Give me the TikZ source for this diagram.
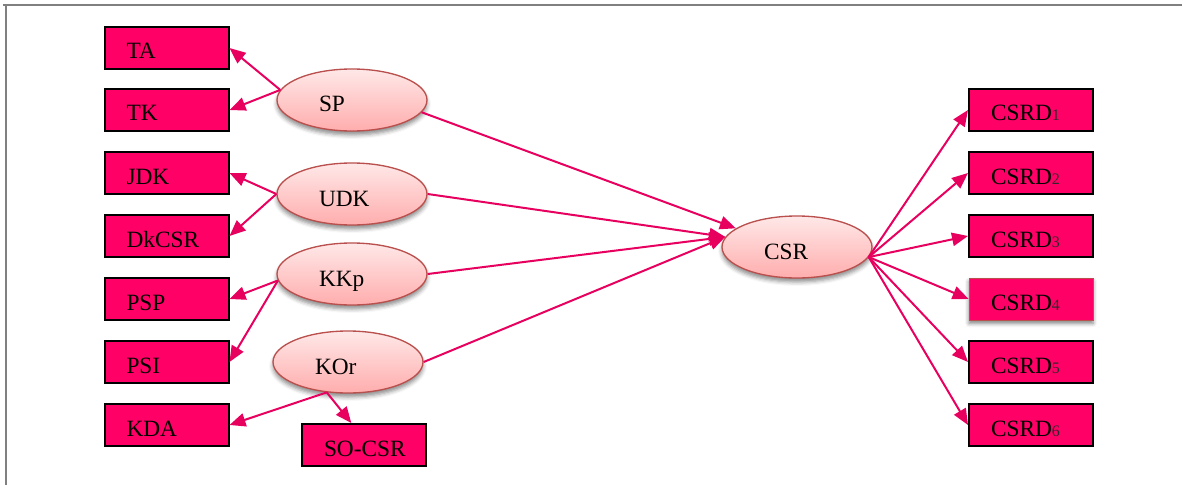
\documentclass[tikz,border=0pt]{standalone}
\usepackage{fontspec}
\setmainfont{Liberation Serif}
\usepackage{tikz}
\usetikzlibrary{arrows.meta,shapes.geometric,shadows,shadows.blur,calc}
\definecolor{boxpink}{HTML}{FF0066}
\definecolor{linepink}{HTML}{E8005F}
\definecolor{ovaltop}{HTML}{FFE8E8}
\definecolor{ovalbot}{HTML}{FFADAD}
\definecolor{ovalrim}{HTML}{B9504D}
\definecolor{subgray}{HTML}{2A2A2A}
\newcommand{\sub}[1]{{\fontsize{12}{12}\selectfont\textcolor{subgray}{#1}}}

\begin{document}
\begin{tikzpicture}[x=0.75pt,y=-0.75pt,
		box/.style={rectangle, draw=black, line width=1.5pt, fill=boxpink,
			minimum width=93pt, minimum height=31.5pt, text width=60pt,
			inner xsep=16.5pt, inner ysep=0pt, align=left,
			text height=16.5pt, text depth=0pt, font=\fontsize{17.5}{20}\selectfont},
		latent/.style={ellipse, draw=ovalrim, line width=1pt,
			top color=ovaltop, bottom color=ovalbot,
			minimum width=112.5pt, minimum height=46.5pt, inner sep=0pt,
			text width=49.5pt, align=left,
			text height=18pt, text depth=0pt, font=\fontsize{17.5}{20}\selectfont,
			blur shadow={shadow xshift=0pt, shadow yshift=-3pt,
				shadow blur radius=3pt, shadow opacity=45}},
		link/.style={-{Triangle[length=12pt,width=10pt]}, color=linepink, line width=1.5pt}]
	\useasboundingbox (0,0) rectangle (1182,485);
	\draw[gray, line width=1.5pt] (3,5) -- (1182,5);
	\draw[gray, line width=1.5pt] (5.5,5) -- (5.5,485);

	\node[box] (TA) at (166.5,48) {TA};
	\node[box] (TK) at (166.5,110) {TK};
	\node[box] (JDK) at (166.5,173) {JDK};
	\node[box] (DkCSR) at (166.5,236) {DkCSR};
	\node[box] (PSP) at (166.5,299) {PSP};
	\node[box] (PSI) at (166.5,362) {PSI};
	\node[box] (KDA) at (166.5,425) {KDA};
	\node[box] (SOCSR) at (364,445) {\mbox{SO-CSR}};

	\node[latent] (SP) at (352,100) {SP};
	\node[latent] (UDK) at (352,194) {UDK};
	\node[latent] (KKp) at (352,274) {KKp};
	\node[latent] (KOr) at (348,362) {KOr};
	\node[latent] (CSR) at (797,247) {CSR};

	\node[box] (D1) at (1031,110) {CSRD\sub{1}};
	\node[box] (D2) at (1031,173) {CSRD\sub{2}};
	\node[box] (D3) at (1031,236) {CSRD\sub{3}};
	\node[box, draw=ovalrim, line width=0.6pt,
		blur shadow={shadow xshift=0pt, shadow yshift=-2.5pt,
			shadow blur radius=3pt, shadow opacity=50}] (D4) at (1031,299) {CSRD\sub{4}};
	\node[box] (D5) at (1031,362) {CSRD\sub{5}};
	\node[box] (D6) at (1031,425) {CSRD\sub{6}};

	\path (SP.172) edge[link] (TA.east);
	\path (SP.172) edge[link] (TK.east);
	\path (UDK.west) edge[link] (JDK.east);
	\path (UDK.west) edge[link] (DkCSR.east);
	\path (KKp.185) edge[link] (PSP.east);
	\path (KKp.185) edge[link] (PSI.east);
	\path (KOr.235) edge[link] (KDA.east);
	\path (KOr.235) edge[link] (SOCSR.120);

	\path (SP.350) edge[link] (CSR.163);
	\path (UDK.east) edge[link] (CSR.172);
	\path (KKp.east) edge[link] (CSR.172);
	\path (KOr.east) edge[link] (CSR.172);

	\path (CSR.352) edge[link] (D1.west);
	\path (CSR.352) edge[link] (D2.west);
	\path (CSR.352) edge[link] (D3.west);
	\path (CSR.352) edge[link] (D4.west);
	\path (CSR.352) edge[link] (D5.west);
	\path (CSR.352) edge[link] (D6.west);
\end{tikzpicture}
\end{document}
